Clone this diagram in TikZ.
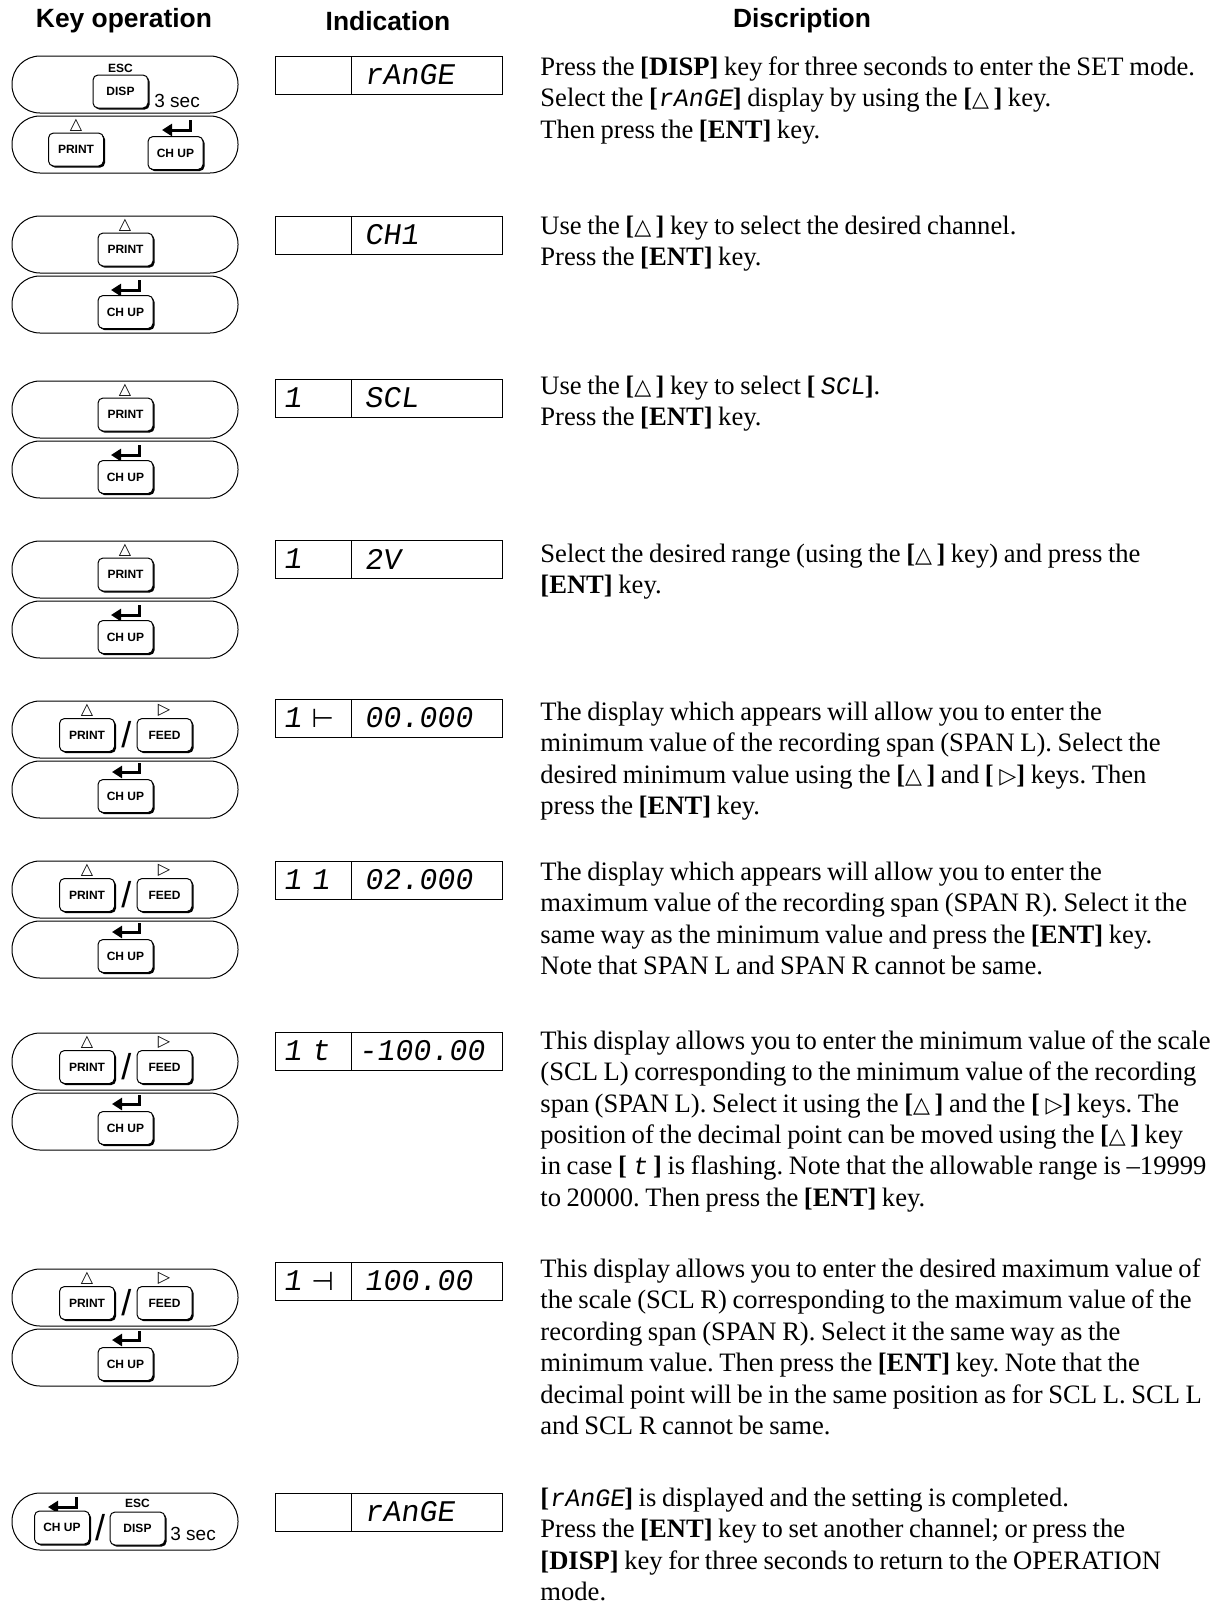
\documentclass[tikz,border=0pt]{standalone}
\usepackage{fontspec}
\setmainfont{Liberation Serif}
\setsansfont{Liberation Sans}
\newfontfamily\segfont[FakeSlant=0.15]{Liberation Mono}
\newfontfamily\symfont{DejaVu Sans}
\usetikzlibrary{arrows.meta,shadows}

\newcommand{\uptri}{{\symfont\fontsize{11}{11}\selectfont △}\,}
\newcommand{\rttri}{{\symfont\fontsize{11}{11}\selectfont ▷}}
\newcommand{\segtxt}[1]{{\segfont\fontsize{12.5}{12.5}\selectfont #1}}
\newcommand{\bk}[1]{\textbf{[}#1\textbf{]}}
\newcommand{\tightsp}{\spaceskip=0.21em plus 0.1em minus 0.05em\relax}
\frenchspacing

\begin{document}
\begin{tikzpicture}[x=0.5pt, y=-0.5pt,
        pad/.style={draw, rounded corners=14pt, minimum width=113pt, minimum height=28.5pt, line width=0.5pt},
        keycap/.style={draw, fill=white, rounded corners=2.5pt, minimum width=27.5pt, minimum height=16.5pt,
            inner sep=0pt, line width=0.5pt, font=\sffamily\bfseries\fontsize{6}{7}\selectfont,
            general shadow={fill=black, shadow xshift=0.8pt, shadow yshift=-0.8pt}},
        esc/.style={font=\sffamily\bfseries\fontsize{6}{7}\selectfont, inner sep=0pt},
        secs/.style={font=\sffamily\fontsize{9.5}{10}\selectfont, inner sep=0pt, anchor=base west},
        sym/.style={font=\symfont\fontsize{8}{8}\selectfont, inner sep=0pt},
        slash/.style={font=\sffamily\fontsize{18}{18}\selectfont, inner sep=0pt},
        enter/.style={line width=1.5pt, -{Triangle[length=5pt, width=6pt]}},
        cell/.style={draw, minimum height=19pt, inner sep=0pt, line width=0.5pt},
        seg/.style={font=\segfont\fontsize{15}{15}\selectfont, inner sep=0pt, anchor=west},
        head/.style={font=\sffamily\bfseries\fontsize{13.2}{15}\selectfont, inner sep=0pt},
        desc/.style={font=\fontsize{13.3}{15.7}\selectfont\tightsp, align=left, inner sep=0pt, anchor=north west}
    ]
    \useasboundingbox (0,0) rectangle (1229,1607);

    % column heads
    \node[head] (hkey) at (124,21) {Key operation};
    \node[head] (hind) at (388,21) {Indication};
    \node[head] (hdsc) at (802,21) {Discription};

    % step 1: enter SET mode
    \node[pad] (pad1a) at (125,84.5) {};
    \node[pad] (pad1b) at (125,144.5) {};
    \node[esc] (esc1) at (120.5,68) {ESC};
    \node[keycap] (disp1) at (120.5,91.5) {DISP};
    \node[secs] (sec1) at (154,107) {3 sec};
    \node[sym] (tri1) at (76,125) {△};
    \node[keycap] (print1) at (76,149.5) {PRINT};
    \draw[enter] (190,120) -- (190,130) -- (162,130);
    \node[keycap] (chup1) at (175.5,153) {CH UP};
    \node[cell, minimum width=38pt] (ind1L) at (313,75) {};
    \node[cell, minimum width=75.5pt] (ind1R) at (426.5,75) {};
    \node[seg] (val1) at (364,75) {rAnGE};
    \node[desc] (desc1) at (540,53) {\strut Press the \textbf{[DISP]} key for three seconds to enter the SET mode.\\
        Select the \bk{\segtxt{rAnGE}} display by using the \bk{\uptri} key.\\
        Then press the \textbf{[ENT]} key.};

    % step 2: channel
    \node[pad] (pad2a) at (125,244.5) {};
    \node[pad] (pad2b) at (125,304.5) {};
    \node[sym] (tri2) at (125,225) {△};
    \node[keycap] (print2) at (125.5,249.5) {PRINT};
    \draw[enter] (139,280) -- (139,290) -- (111,290);
    \node[keycap] (chup2) at (125.5,312) {CH UP};
    \node[cell, minimum width=38pt] (ind2L) at (313,235) {};
    \node[cell, minimum width=75.5pt] (ind2R) at (426.5,235) {};
    \node[seg] (val2) at (364,235) {CH1};
    \node[desc] (desc2) at (540,212) {\strut Use the \bk{\uptri} key to select the desired channel.\\
        Press the \textbf{[ENT]} key.};

    % step 3: SCL
    \node[pad] (pad3a) at (125,409.5) {};
    \node[pad] (pad3b) at (125,469.5) {};
    \node[sym] (tri3) at (125,390) {△};
    \node[keycap] (print3) at (125.5,414.5) {PRINT};
    \draw[enter] (139,445) -- (139,455) -- (111,455);
    \node[keycap] (chup3) at (125.5,477) {CH UP};
    \node[cell, minimum width=38pt] (ind3L) at (313,398) {};
    \node[cell, minimum width=75.5pt] (ind3R) at (426.5,398) {};
    \node[seg] (ch3) at (283,398) {1};
    \node[seg] (val3) at (364,398) {SCL};
    \node[desc] (desc3) at (540,372) {\strut Use the \bk{\uptri} key to select \bk{\,\segtxt{SCL}}.\\
        Press the \textbf{[ENT]} key.};

    % step 4: range
    \node[pad] (pad4a) at (125,569.5) {};
    \node[pad] (pad4b) at (125,629.5) {};
    \node[sym] (tri4) at (125,550) {△};
    \node[keycap] (print4) at (125.5,574.5) {PRINT};
    \draw[enter] (139,605) -- (139,615) -- (111,615);
    \node[keycap] (chup4) at (125.5,637) {CH UP};
    \node[cell, minimum width=38pt] (ind4L) at (313,559) {};
    \node[cell, minimum width=75.5pt] (ind4R) at (426.5,559) {};
    \node[seg] (ch4) at (283,559) {1};
    \node[seg] (val4) at (364,559) {2V};
    \node[desc] (desc4) at (540,540) {\strut Select the desired range (using the \bk{\uptri} key) and press the\\
        \textbf{[ENT]} key.};

    % step 5: SPAN L
    \node[pad] (pad5a) at (125,729.5) {};
    \node[pad] (pad5b) at (125,789.5) {};
    \node[sym] (tri5) at (87,710) {△};
    \node[sym] (rt5) at (164,710) {▷};
    \node[keycap] (print5) at (87,735) {PRINT};
    \node[slash] (sl5) at (126.5,735) {/};
    \node[keycap] (feed5) at (164.5,735) {FEED};
    \draw[enter] (139,763) -- (139,772) -- (112,772);
    \node[keycap] (chup5) at (125.5,796) {CH UP};
    \node[cell, minimum width=38pt] (ind5L) at (313,718) {};
    \node[cell, minimum width=75.5pt] (ind5R) at (426.5,718) {};
    \node[seg] (ch5) at (283,718) {1\kern5pt{\symfont\fontsize{13}{13}\selectfont ⊢}};
    \node[seg] (val5) at (364,718) {00.000};
    \node[desc] (desc5) at (540,698) {\strut The display which appears will allow you to enter the\\
        minimum value of the recording span (SPAN L). Select the\\
        desired minimum value using the \bk{\uptri} and \bk{ \rttri} keys. Then\\
        press the \textbf{[ENT]} key.};

    % step 6: SPAN R
    \node[pad] (pad6a) at (125,889.5) {};
    \node[pad] (pad6b) at (125,949.5) {};
    \node[sym] (tri6) at (87,870) {△};
    \node[sym] (rt6) at (164,870) {▷};
    \node[keycap] (print6) at (87,895) {PRINT};
    \node[slash] (sl6) at (126.5,895) {/};
    \node[keycap] (feed6) at (164.5,895) {FEED};
    \draw[enter] (139,923) -- (139,932) -- (112,932);
    \node[keycap] (chup6) at (125.5,956) {CH UP};
    \node[cell, minimum width=38pt] (ind6L) at (313,880) {};
    \node[cell, minimum width=75.5pt] (ind6R) at (426.5,880) {};
    \node[seg] (ch6) at (283,880) {1\kern5pt 1};
    \node[seg] (val6) at (364,880) {02.000};
    \node[desc] (desc6) at (540,858) {\strut The display which appears will allow you to enter the\\
        maximum value of the recording span (SPAN R). Select it the\\
        same way as the minimum value and press the \textbf{[ENT]} key.\\
        Note that SPAN L and SPAN R cannot be same.};

    % step 7: SCL L
    \node[pad] (pad7a) at (125,1061.5) {};
    \node[pad] (pad7b) at (125,1121.5) {};
    \node[sym] (tri7) at (87,1042) {△};
    \node[sym] (rt7) at (164,1042) {▷};
    \node[keycap] (print7) at (87,1067) {PRINT};
    \node[slash] (sl7) at (126.5,1067) {/};
    \node[keycap] (feed7) at (164.5,1067) {FEED};
    \draw[enter] (139,1095) -- (139,1104) -- (112,1104);
    \node[keycap] (chup7) at (125.5,1128) {CH UP};
    \node[cell, minimum width=38pt] (ind7L) at (313,1051) {};
    \node[cell, minimum width=75.5pt] (ind7R) at (426.5,1051) {};
    \node[seg] (ch7) at (283,1051) {1\kern5pt t};
    \node[seg] (val7) at (358,1051) {-100.00};
    \node[desc] (desc7) at (540,1027) {\strut This display allows you to enter the minimum value of the scale\\
        (SCL L) corresponding to the minimum value of the recording\\
        span (SPAN L). Select it using the \bk{\uptri} and the \bk{ \rttri} keys. The\\
        position of the decimal point can be moved using the \bk{\uptri} key\\
        in case \bk{ \segtxt{t} } is flashing. Note that the allowable range is –19999\\
        to 20000. Then press the \textbf{[ENT]} key.};

    % step 8: SCL R
    \node[pad] (pad8a) at (125,1297.5) {};
    \node[pad] (pad8b) at (125,1357.5) {};
    \node[sym] (tri8) at (87,1278) {△};
    \node[sym] (rt8) at (164,1278) {▷};
    \node[keycap] (print8) at (87,1303) {PRINT};
    \node[slash] (sl8) at (126.5,1303) {/};
    \node[keycap] (feed8) at (164.5,1303) {FEED};
    \draw[enter] (139,1331) -- (139,1340) -- (112,1340);
    \node[keycap] (chup8) at (125.5,1364) {CH UP};
    \node[cell, minimum width=38pt] (ind8L) at (313,1281) {};
    \node[cell, minimum width=75.5pt] (ind8R) at (426.5,1281) {};
    \node[seg] (ch8) at (283,1281) {1\kern5pt{\symfont\fontsize{13}{13}\selectfont ⊣}};
    \node[seg] (val8) at (364,1281) {100.00};
    \node[desc] (desc8) at (540,1255) {\strut This display allows you to enter the desired maximum value of\\
        the scale (SCL R) corresponding to the maximum value of the\\
        recording span (SPAN R). Select it the same way as the\\
        minimum value. Then press the \textbf{[ENT]} key. Note that the\\
        decimal point will be in the same position as for SCL L. SCL L\\
        and SCL R cannot be same.};

    % step 9: done
    \node[pad] (pad9) at (125,1521.5) {};
    \draw[enter] (76,1497) -- (76,1507) -- (48,1507);
    \node[keycap] (chup9) at (62,1527.5) {CH UP};
    \node[slash] (sl9) at (100,1527.5) {/};
    \node[esc] (esc9) at (137.5,1503) {ESC};
    \node[keycap] (disp9) at (137.5,1528.5) {DISP};
    \node[secs] (sec9) at (170,1540) {3 sec};
    \node[cell, minimum width=38pt] (ind9L) at (313,1512) {};
    \node[cell, minimum width=75.5pt] (ind9R) at (426.5,1512) {};
    \node[seg] (val9) at (364,1512) {rAnGE};
    \node[desc] (desc9) at (540,1484) {\strut\bk{\segtxt{rAnGE}} is displayed and the setting is completed.\\
        Press the \textbf{[ENT]} key to set another channel; or press the\\
        \textbf{[DISP]} key for three seconds to return to the OPERATION\\
        mode.};
\end{tikzpicture}
\end{document}
